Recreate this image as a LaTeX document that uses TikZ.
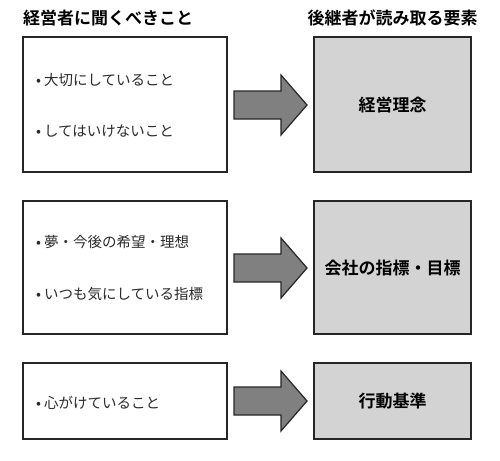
\documentclass[tikz,border=0pt]{standalone}
\usepackage{fontspec}
\setmainfont{Noto Sans CJK JP}
\newfontfamily\jpbold{Noto Sans CJK JP Bold}
\definecolor{boxgray}{HTML}{D3D3D3}
\definecolor{arrowgray}{HTML}{808080}
\definecolor{textgray}{HTML}{2A2A2A}
\begin{document}
\begin{tikzpicture}[x=1pt,y=-1pt,
  srcbox/.style={draw=black!85,line width=1.6pt,fill=white},
  dstbox/.style={draw=black!85,line width=1.6pt,fill=boxgray},
  blockarrow/.style={draw=black!85,line width=1.2pt,fill=arrowgray,line join=miter},
  bullettext/.style={anchor=west,inner sep=0pt,text=textgray,font=\fontsize{14.5}{17}\selectfont},
  dstlabel/.style={inner sep=0pt,font=\jpbold\fontsize{17}{20}\selectfont},
  title/.style={inner sep=0pt,font=\jpbold\fontsize{17}{20}\selectfont}]
\useasboundingbox (0,0) rectangle (500,460);
% titles
\node[title,anchor=west] (t1) at (23,18) {経営者に聞くべきこと};
\node[title] (t2) at (392.5,18) {後継者が読み取る要素};
% boxes
\draw[srcbox] (23,37) rectangle (227,172);
\draw[dstbox] (314,37) rectangle (471,172);
\draw[srcbox] (23,201) rectangle (227,334);
\draw[dstbox] (314,201) rectangle (471,334);
\draw[srcbox] (23,363) rectangle (227,439);
\draw[dstbox] (314,363) rectangle (471,439);
% arrows
\foreach \cy in {105,268,401}{
  \draw[blockarrow] (234,\cy-14) -- (281,\cy-14) -- (281,\cy-30) -- (307,\cy) -- (281,\cy+30) -- (281,\cy+14) -- (234,\cy+14) -- cycle;
}
% texts
\node[bullettext] (a1) at (36,80) {•\hspace{3pt}大切にしていること};
\node[bullettext] (a2) at (36,131) {•\hspace{3pt}してはいけないこと};
\node[bullettext] (b1) at (36,242) {•\hspace{3pt}夢・今後の希望・理想};
\node[bullettext] (b2) at (36,294) {•\hspace{3pt}いつも気にしている指標};
\node[bullettext] (c1) at (36,403) {•\hspace{3pt}心がけていること};
\node[dstlabel] (d1) at (392.5,105) {経営理念};
\node[dstlabel] (d2) at (392.5,268) {会社の指標・目標};
\node[dstlabel] (d3) at (392.5,401) {行動基準};
\end{tikzpicture}
\end{document}
